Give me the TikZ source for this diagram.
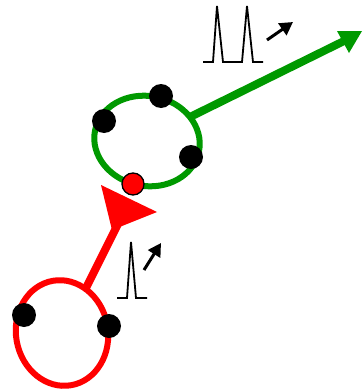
\documentclass[tikz,border=0pt]{standalone}
\usetikzlibrary{arrows.meta}
\definecolor{dgreen}{RGB}{0,153,0}
\definecolor{rred}{RGB}{255,0,0}
\tikzset{
  bead/.style={circle,fill=black,draw=none,minimum size=24pt,inner sep=0pt},
  redbead/.style={circle,fill=rred,draw=black,line width=1.3pt,minimum size=22pt,inner sep=0pt},
  ring/.style={line width=6pt},
  spec/.style={line width=1.8pt,line join=miter},
  pulsearrow/.style={line width=3pt,-{Triangle[length=13pt,width=14pt]}},
}
\begin{document}
\begin{tikzpicture}[x=1pt,y=-1pt]
\useasboundingbox (0,0) rectangle (362,391);
% green ring and arrow
\draw[dgreen,ring,rotate around={-11:(147,141)}] (147,141) ellipse [x radius=53, y radius=45];
\coordinate (gs) at (190,117);
\coordinate (ge) at (344,41);
\draw[dgreen,line width=8pt] (gs) -- (ge);
\fill[dgreen] (362,31) -- (337,31) -- (349,53) -- cycle;
% red ring and arrow
\draw[rred,ring,rotate around={10:(62,333)}] (62,333) ellipse [x radius=46, y radius=53];
\coordinate (rs) at (85,290);
\coordinate (re) at (118,224);
\draw[rred,line width=8pt] (rs) -- (re);
\fill[rred] (101,185) -- (157,212) -- (112,230) -- cycle;
% beads
\node[bead] (g1) at (104,121) {};
\node[bead] (g2) at (161,96) {};
\node[bead] (g3) at (191,157) {};
\node[redbead] (g4) at (133,184) {};
\node[bead] (r1) at (24,315) {};
\node[bead] (r2) at (109,326) {};
% spectra
\draw[spec] (203,62) -- (213,62) -- (217,6) -- (223,62) -- (242,62) -- (247,6) -- (253,62) -- (263,62);
\coordinate (a1s) at (267,40);
\coordinate (a1e) at (293,22);
\draw[pulsearrow] (a1s) -- (a1e);
\draw[spec] (117,298) -- (127,298) -- (131,242) -- (136,298) -- (147,298);
\coordinate (a2s) at (144,270);
\coordinate (a2e) at (161,243);
\draw[pulsearrow] (a2s) -- (a2e);
\end{tikzpicture}
\end{document}
